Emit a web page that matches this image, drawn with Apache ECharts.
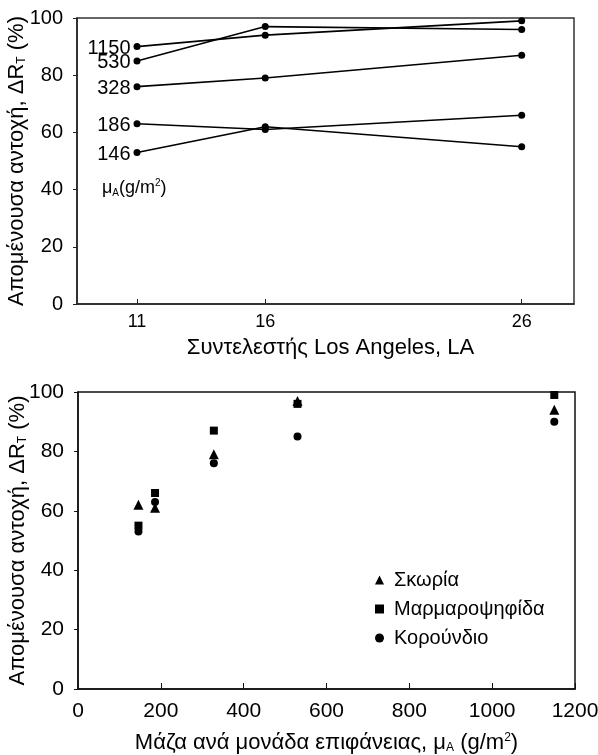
<!DOCTYPE html>
<html>
<head>
<meta charset="utf-8">
<script src="https://cdn.jsdelivr.net/npm/echarts@6/dist/echarts.min.js"></script>
<style>
  html, body { margin: 0; padding: 0; background: #fff; }
  #canvas { width: 598px; height: 755px; }
</style>
</head>
<body>
<div id="canvas"></div>
<script type="text/javascript">
    // 数据 - top chart: LA coefficient vs residual strength, one line per μA
    var laValues = [11, 16, 26];
    var massNames = ['1150', '530', '328', '186', '146'];
    var line1150 = [90, 94, 99];
    var line530 = [85, 97, 96];
    var line328 = [76, 79, 87];
    var line186 = [63, 61, 66];
    var line146 = [53, 62, 55];

    // bottom chart: mass per unit area vs residual strength
    var massValues = [146, 186, 328, 530, 1150];
    var skoria = [62, 61, 79, 97, 94];
    var marmaro = [55, 66, 87, 96, 99];
    var korountio = [53, 63, 76, 85, 90];
    var seriesNames = ['Σκωρία', 'Μαρμαροψηφίδα', 'Κορούνδιο'];

    var FONT = "'Liberation Sans', Arial, sans-serif";
    var yName = 'Απομένουσα αντοχή, ΔR{sub|T} (%)';
    var nameRich = {
        sub: { fontSize: 12, fontFamily: FONT, color: '#000', verticalAlign: 'bottom', lineHeight: 22 },
        sup: { fontSize: 12, fontFamily: FONT, color: '#000', verticalAlign: 'top', lineHeight: 22 }
    };

    var Dom = document.querySelector('#canvas');
    var myChart = echarts.init(Dom);

    var lineData = [line1150, line530, line328, line186, line146];
    var lineSeries = lineData.map(function (vals, k) {
        return {
            name: massNames[k],
            type: 'line',
            xAxisIndex: 0,
            yAxisIndex: 0,
            symbol: 'circle',
            symbolSize: 7,
            color: '#000',
            lineStyle: { color: '#000', width: 1.6 },
            itemStyle: { color: '#000' },
            label: {
                show: false,
                position: 'left',
                distance: 3,
                offset: [0, 2],
                formatter: massNames[k],
                color: '#000',
                fontSize: 20,
                fontFamily: FONT
            },
            data: vals.map(function (v, i) {
                return { value: [laValues[i], v], label: { show: i === 0 } };
            }),
            z: 3
        };
    });

    function scatter(name, vals, symbol, size, z) {
        return {
            name: name,
            type: 'scatter',
            xAxisIndex: 1,
            yAxisIndex: 1,
            symbol: symbol,
            symbolSize: size,
            itemStyle: { color: '#000', opacity: 1 },
            data: vals.map(function (v, i) { return [massValues[i], v]; }),
            z: z
        };
    }

    var option = {
        animation: false,
        backgroundColor: '#fff',
        textStyle: { fontFamily: FONT, color: '#000' },
        grid: [
            { left: 77, right: 24, top: 18, height: 286, show: true, borderColor: '#333', borderWidth: 1.5, outerBoundsMode: 'none' },
            { left: 78, right: 23, top: 392, height: 297, show: true, borderColor: '#111', borderWidth: 1.5, outerBoundsMode: 'none' }
        ],
        legend: {
            orient: 'vertical',
            left: 370,
            top: 565,
            itemWidth: 9,
            itemHeight: 9,
            itemGap: 9,
            data: [
                { name: seriesNames[0], icon: 'triangle', itemStyle: { color: '#000', opacity: 1 } },
                { name: seriesNames[1], icon: 'rect', itemStyle: { color: '#000', opacity: 1 } },
                { name: seriesNames[2], icon: 'circle', itemStyle: { color: '#000', opacity: 1 } }
            ],
            textStyle: { fontSize: 20, fontFamily: FONT, color: '#000', padding: [0, 0, 0, 5] }
        },
        xAxis: [
            {
                type: 'value',
                gridIndex: 0,
                min: 8.66,
                max: 28.04,
                splitLine: { show: false },
                axisLine: { show: true, onZero: false, lineStyle: { color: '#222', width: 1.5 } },
                axisTick: { show: true, inside: true, length: 5, customValues: laValues, lineStyle: { color: '#222' } },
                axisLabel: { customValues: laValues, fontSize: 18, color: '#000', fontFamily: FONT, margin: 9 },
                name: 'Συντελεστής Los Angeles, LA',
                nameLocation: 'middle',
                nameGap: 33,
                nameMoveOverlap: false,
                nameTextStyle: { fontSize: 22, color: '#000', fontFamily: FONT, padding: [0, 0, 0, 10] }
            },
            {
                type: 'value',
                gridIndex: 1,
                min: 0,
                max: 1200,
                interval: 200,
                splitLine: { show: false },
                axisLine: { show: true, onZero: false, lineStyle: { color: '#111', width: 1.5 } },
                axisTick: { show: true, inside: true, length: 6, lineStyle: { color: '#111' } },
                axisLabel: {
                    fontSize: 21, color: '#000', fontFamily: FONT, margin: 12,
                    formatter: function (v) { return String(v); }
                },
                name: 'Μάζα ανά μονάδα επιφάνειας, μ{sub|A} (g/m{sup|2})',
                nameLocation: 'middle',
                nameGap: 43,
                nameMoveOverlap: false,
                nameTextStyle: { fontSize: 22, color: '#000', fontFamily: FONT, rich: nameRich }
            }
        ],
        yAxis: [
            {
                type: 'value',
                gridIndex: 0,
                min: 0,
                max: 100,
                interval: 20,
                splitLine: { show: false },
                axisLine: { show: true, lineStyle: { color: '#222', width: 1.5 } },
                axisTick: { show: true, length: 4, lineStyle: { color: '#222' } },
                axisLabel: { fontSize: 20, color: '#000', fontFamily: FONT, margin: 14 },
                name: yName,
                nameLocation: 'middle',
                nameGap: 49,
                nameMoveOverlap: false,
                nameTextStyle: { fontSize: 22, color: '#000', fontFamily: FONT, rich: nameRich }
            },
            {
                type: 'value',
                gridIndex: 1,
                min: 0,
                max: 100,
                interval: 20,
                splitLine: { show: false },
                axisLine: { show: true, lineStyle: { color: '#111', width: 1.5 } },
                axisTick: { show: true, length: 4, lineStyle: { color: '#111' } },
                axisLabel: { fontSize: 21, color: '#000', fontFamily: FONT, margin: 14 },
                name: yName,
                nameLocation: 'middle',
                nameGap: 49,
                nameMoveOverlap: false,
                nameTextStyle: { fontSize: 22, color: '#000', fontFamily: FONT, rich: nameRich }
            }
        ],
        graphic: [
            {
                type: 'text',
                left: 102,
                top: 178,
                style: {
                    text: 'μ{s|A}(g/m{p|2})',
                    fontSize: 18,
                    fontFamily: FONT,
                    fill: '#000',
                    rich: {
                        s: { fontSize: 10, fontFamily: FONT, verticalAlign: 'bottom', lineHeight: 20 },
                        p: { fontSize: 10, fontFamily: FONT, verticalAlign: 'top', lineHeight: 20 }
                    }
                }
            }
        ],
        series: lineSeries.concat([
            scatter(seriesNames[1], marmaro, 'rect', 8, 2),
            scatter(seriesNames[2], korountio, 'circle', 8, 3),
            scatter(seriesNames[0], skoria, 'triangle', 10, 4)
        ])
    };
    myChart.setOption(option);
</script>
</body>
</html>
